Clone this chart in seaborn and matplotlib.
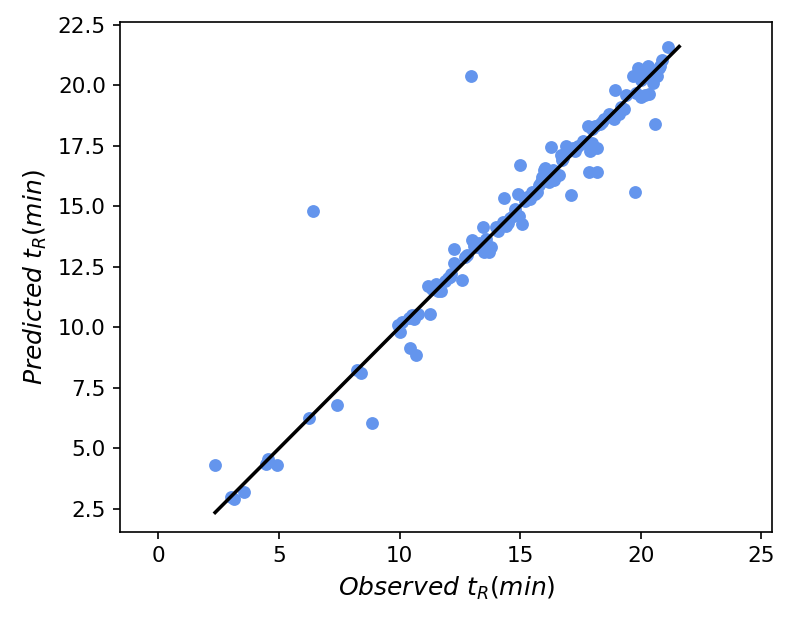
import numpy as np
import pandas as pd
import matplotlib
matplotlib.use("Agg")
import matplotlib.pyplot as plt
import seaborn as sns

observed = [2.35, 3.0, 3.15, 3.55, 4.45, 4.55, 4.9, 6.25, 6.4, 7.4, 8.25, 8.4, 8.85,
            9.95, 10.0, 10.1, 10.4, 10.45, 10.6, 10.7, 10.75, 10.5, 11.2, 11.25, 11.35,
            11.5, 11.6, 11.7, 11.9, 12.0, 12.15, 12.25, 12.25, 12.6, 12.7, 12.8, 12.95,
            13.0, 13.1, 13.3, 13.45, 13.5, 13.6, 13.7, 13.8, 14.0, 14.1, 14.3, 14.35,
            14.4, 14.6, 14.8, 14.9, 14.95, 15.0, 15.1, 15.2, 15.3, 15.5, 15.7, 15.8,
            15.9, 16.0, 16.1, 16.2, 16.3, 16.35, 16.5, 16.6, 16.7, 16.8, 16.9, 17.1,
            17.2, 17.4, 17.6, 17.8, 17.85, 17.9, 18.0, 18.1, 18.2, 18.2, 18.3, 18.5,
            18.7, 18.9, 18.95, 19.1, 19.3, 19.4, 19.7, 19.75, 19.8, 19.9, 20.0, 20.1,
            20.2, 20.3, 20.35, 20.5, 20.6, 20.6, 20.7, 20.8, 20.9, 21.15,
            14.5, 14.7, 15.4, 15.6, 15.85, 16.05, 16.25, 16.4, 16.75, 17.0, 17.3, 17.7,
            18.0, 18.4, 19.2, 20.0, 20.4, 20.75, 13.2, 13.55, 12.1, 11.3]
predicted = [4.3, 3.0, 2.9, 3.2, 4.35, 4.55, 4.3, 6.25, 14.8, 6.8, 8.25, 8.1, 6.05,
             10.1, 9.8, 10.2, 10.4, 9.15, 10.35, 8.85, 10.55, 10.5, 11.7, 10.55, 11.6,
             11.8, 11.5, 11.5, 11.9, 12.05, 12.2, 13.25, 12.65, 11.95, 12.9, 13.0, 20.4,
             13.6, 13.35, 13.5, 14.15, 13.1, 13.65, 13.1, 13.3, 14.15, 14.0, 14.35, 15.35,
             14.2, 14.5, 14.9, 15.5, 14.6, 16.7, 14.25, 15.2, 15.4, 15.6, 15.6, 15.9,
             16.2, 16.5, 16.3, 16.0, 17.45, 16.5, 16.3, 16.3, 17.1, 17.0, 17.5, 15.45,
             17.4, 17.5, 17.7, 18.3, 16.4, 17.3, 17.6, 18.3, 16.4, 17.4, 18.4, 18.6,
             18.8, 18.6, 19.8, 18.8, 19.0, 19.6, 20.4, 15.6, 19.7, 20.7, 19.5, 20.5,
             19.6, 20.8, 19.65, 20.1, 18.4, 20.6, 20.4, 20.8, 21.05, 21.6,
             14.3, 14.6, 15.3, 15.5, 16.0, 16.6, 16.35, 16.1, 16.9, 17.3, 17.3, 17.6,
             18.2, 18.5, 19.1, 20.2, 20.6, 20.7, 13.3, 13.4, 12.1, 11.65]

df = pd.DataFrame({"observed": observed, "predicted": predicted})

fig = plt.figure(figsize=(5.28, 4.1667), dpi=150)
ax = fig.add_axes([0.152, 0.149, 0.823, 0.816])
sns.scatterplot(data=df, x="observed", y="predicted", color="#6495ED",
                s=38, linewidth=0, ax=ax)
lo = min(df.observed.min(), df.predicted.min())
hi = max(df.observed.max(), df.predicted.max())
ax.plot([lo, hi], [lo, hi], color="black", lw=1.7)
ax.set_xlim(-1.58, 25.46)
ax.set_ylim(1.55, 22.62)
ax.set_xticks([0, 5, 10, 15, 20, 25])
ax.set_yticks([2.5, 5.0, 7.5, 10.0, 12.5, 15.0, 17.5, 20.0, 22.5])
ax.tick_params(labelsize=10.3)
ax.set_xlabel(r"$Observed\ t_R(min)$", fontsize=12)
ax.set_ylabel(r"$Predicted\ t_R(min)$", fontsize=12)
fig.savefig("out.png", dpi=150)
